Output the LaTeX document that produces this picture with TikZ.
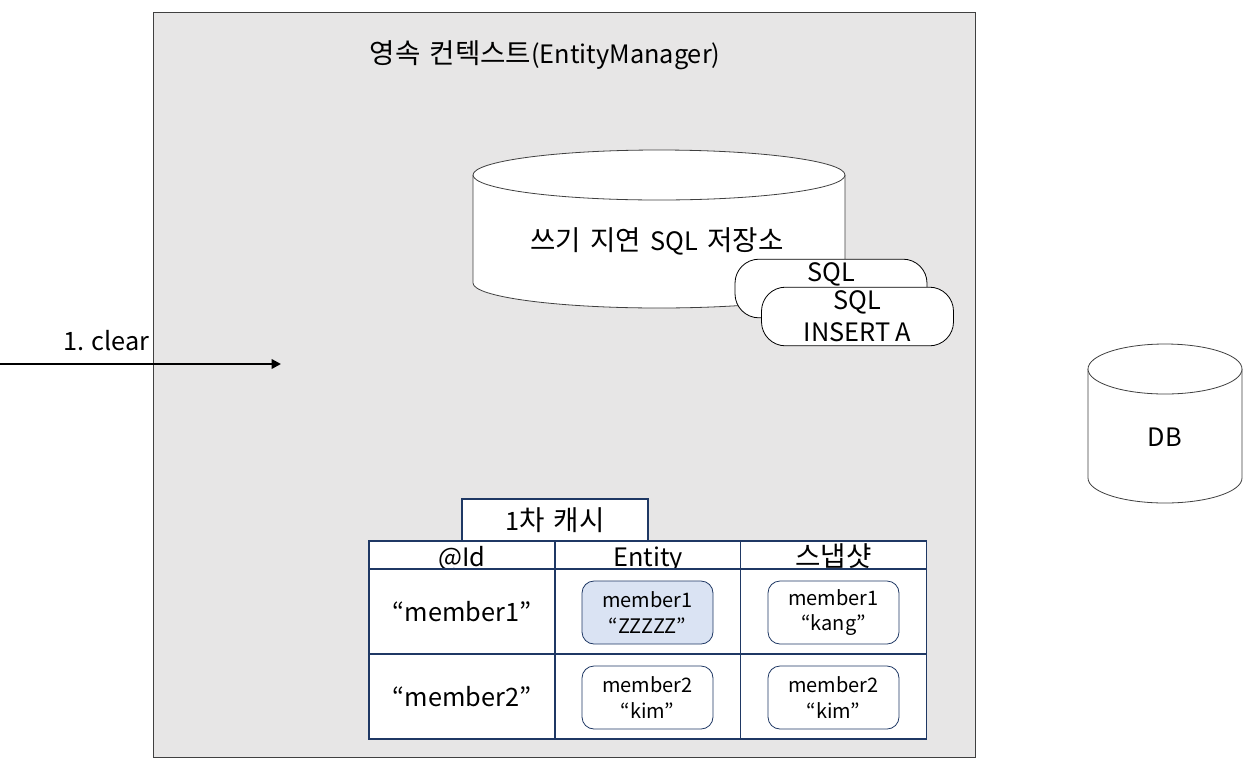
\documentclass[tikz,border=0pt]{standalone}
\usepackage{fontspec}
\setmainfont{Noto Sans CJK KR}
\newfontfamily\krfont[Scale=1.09, WordSpace=1.5]{Noto Sans CJK KR}
\usepackage{tikz}
\usepackage{xcolor}
\usetikzlibrary{arrows.meta}
\definecolor{ctxgray}{HTML}{E7E6E6}
\definecolor{edgegray}{HTML}{404040}
\definecolor{navy}{HTML}{1F3864}
\definecolor{paleblue}{HTML}{DAE3F3}
\tikzset{
    context-box/.style = {draw=edgegray, fill=ctxgray, line width=0.6pt},
    store-shape/.style = {draw=edgegray, fill=white, line width=0.6pt},
    big-text/.style = {inner sep=0pt, align=center, font=\fontsize{19}{24}\selectfont},
    sql-box/.style = {draw=black, fill=white, line width=0.6pt, rectangle, rounded corners=18pt, minimum width=144pt, minimum height=44pt, big-text},
    cache-cell/.style = {draw=navy, fill=white, line width=0.8pt, rectangle, outer sep=0pt, minimum width=139.5pt, big-text},
    head-cell/.style = {cache-cell, minimum height=21pt, text height=18.5pt, text depth=2pt},
    body-cell/.style = {cache-cell, minimum height=63.75pt},
    entry-box/.style = {draw=navy, fill=white, line width=0.6pt, rectangle, rounded corners=9pt, minimum width=98.25pt, minimum height=47.25pt, inner sep=0pt, align=center, font=\fontsize{15}{19}\selectfont},
    clear-arrow/.style = {line width=2.2pt, -{Triangle[length=7pt, width=7pt]}},
}

\begin{document}
\begin{tikzpicture}[x=0.75pt, y=-0.75pt]
\useasboundingbox (0,0) rectangle (1257,772);
% persistence context
\draw[context-box] (153,12) rectangle (975,757);
\node[big-text] (ctx-title) at (545,55) {{\krfont 영속 컨텍스트}(EntityManager)};

% write-behind SQL store
\path[store-shape] (473,175) -- (473,283) arc[start angle=180, end angle=0, x radius=186, y radius=25]
    -- (845,175) arc[start angle=0, end angle=-180, x radius=186, y radius=25] -- cycle;
\draw[store-shape] (473,175) arc[start angle=180, end angle=0, x radius=186, y radius=25];
\node[big-text] (store-label) at (657,241) {{\krfont 쓰기 지연 }SQL{\krfont\ 저장소}};
\node[sql-box] (sql-back) at (831,288.5) {SQL\\\mbox{}};
\node[sql-box] (sql-front) at (857.5,316.5) {SQL\\INSERT A};

% clear call
\coordinate (clear-start) at (0,364);
\coordinate (clear-end) at (281,364);
\draw[clear-arrow] (clear-start) -- (clear-end);
\node[big-text, anchor=east] (clear-label) at (150,341) {1. clear};

% first level cache
\node[cache-cell, minimum height=31.5pt] (cache-title) at (555,520) {1{\krfont 차 캐시}};
\node[head-cell] (head-id) at (462,555) {@Id};
\node[head-cell] (head-entity) at (648,555) {Entity};
\node[head-cell] (head-snap) at (833.5,555) {\krfont 스냅샷};
\node[body-cell] (id-one) at (462,611.5) {“member1”};
\node[body-cell] (entity-one) at (648,611.5) {};
\node[body-cell] (snap-one) at (833.5,611.5) {};
\node[body-cell] (id-two) at (462,696.5) {“member2”};
\node[body-cell] (entity-two) at (648,696.5) {};
\node[body-cell] (snap-two) at (833.5,696.5) {};
\node[entry-box, fill=paleblue] (member-one) at (647.5,612.5) {member1\\“ZZZZZ”};
\node[entry-box] (snap-member-one) at (833.5,612.5) {member1\\“kang”};
\node[entry-box] (member-two) at (647.5,697.5) {member2\\“kim”};
\node[entry-box] (snap-member-two) at (833.5,697.5) {member2\\“kim”};

% database
\path[store-shape] (1088,369) -- (1088,478) arc[start angle=180, end angle=0, x radius=77, y radius=25]
    -- (1242,369) arc[start angle=0, end angle=-180, x radius=77, y radius=25] -- cycle;
\draw[store-shape] (1088,369) arc[start angle=180, end angle=0, x radius=77, y radius=25];
\node[big-text] (db-label) at (1165,437) {DB};
\end{tikzpicture}
\end{document}
